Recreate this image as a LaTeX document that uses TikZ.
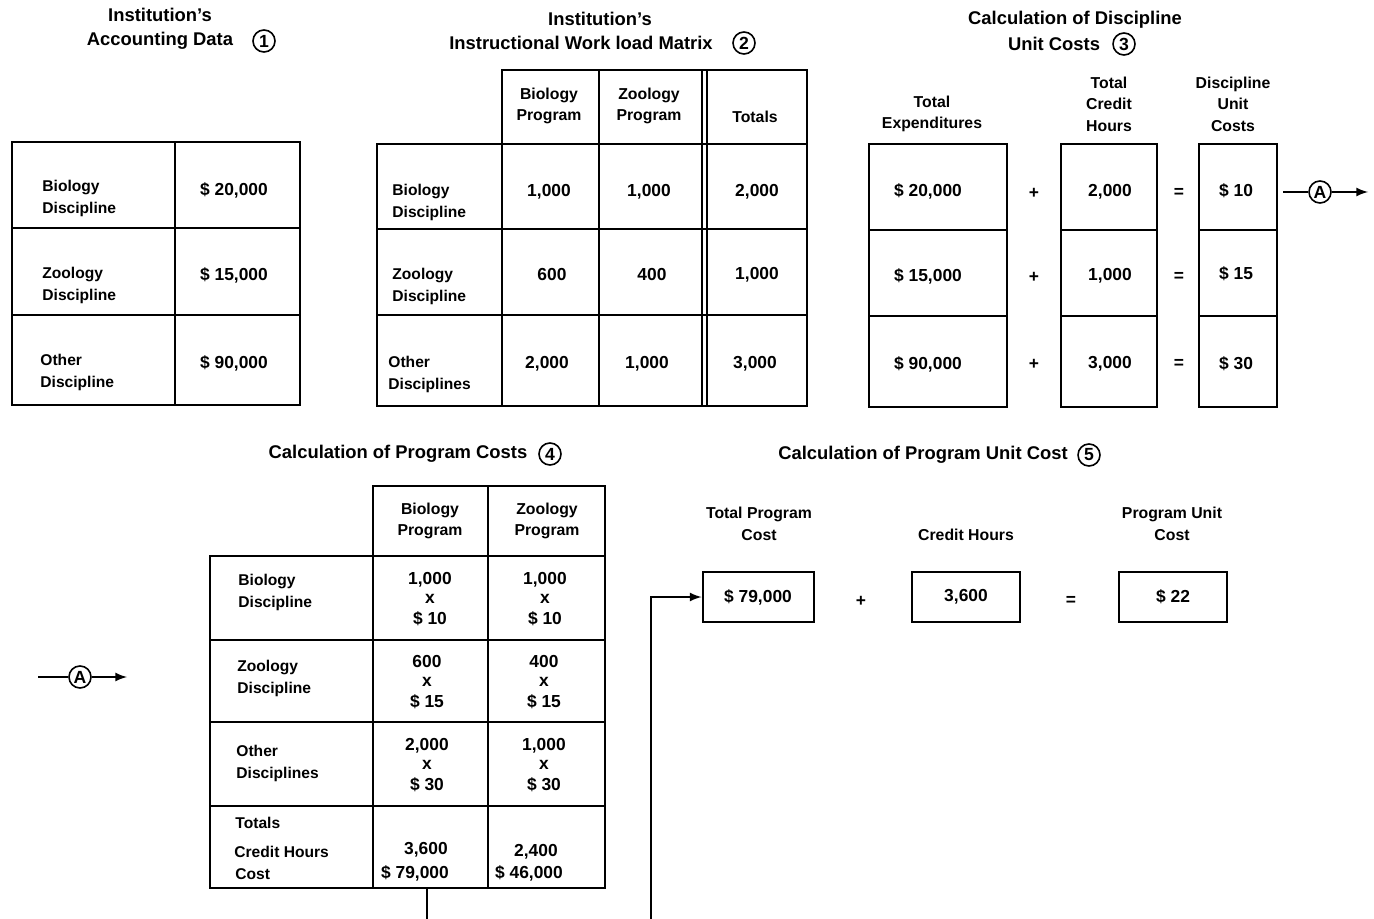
\documentclass[tikz,border=0pt]{standalone}
\usepackage{fontspec}
\setmainfont{Liberation Sans}
\usetikzlibrary{arrows}

\tikzset{
  grid/.style={line width=1pt},
  ttl/.style={font=\fontsize{9.2}{12}\selectfont\bfseries, align=center, inner sep=0pt},
  head/.style={font=\fontsize{7.9}{10.8}\selectfont\bfseries, align=center, inner sep=0pt},
  lbl/.style={font=\fontsize{7.8}{11}\selectfont\bfseries, align=left, anchor=west, inner sep=0pt},
  val/.style={font=\fontsize{8.7}{10.5}\selectfont\bfseries, align=center, inner sep=0pt},
  num/.style={circle, draw, line width=0.8pt, minimum size=11pt, inner sep=0pt, font=\fontsize{8.8}{8.8}\selectfont\bfseries},
  box/.style={draw, line width=1pt, minimum height=25pt, font=\fontsize{8.7}{10}\selectfont\bfseries}
}

\begin{document}
\begin{tikzpicture}[x=0.5pt, y=-0.5pt, >=latex]
    \useasboundingbox (0,0) rectangle (1374,919);

    % 1: accounting data
    \node[ttl] (t1) at (160,29) {Institution's\\Accounting Data};
    \node[num] (n1) at (264,41) {1};
    \draw[grid] (12,142) rectangle (300,405);
    \draw[grid] (175,142) -- (175,405) (12,228) -- (300,228) (12,315) -- (300,315);
    \node[lbl] (ab) at (42,198) {Biology\\Discipline};
    \node[lbl] (az) at (42,285) {Zoology\\Discipline};
    \node[lbl] (ao) at (40,372) {Other\\Discipline};
    \node[val] (abv) at (234,190) {\$ 20,000};
    \node[val] (azv) at (234,275) {\$ 15,000};
    \node[val] (aov) at (234,363) {\$ 90,000};

    % 2: work load matrix
    \node[ttl] (t2a) at (600,19) {Institution's};
    \node[ttl] (t2b) at (581,43) {Instructional Work load Matrix};
    \node[num] (n2) at (744,43) {2};
    \draw[grid] (502,144) -- (502,70) -- (807,70) -- (807,406) -- (377,406) -- (377,144) -- cycle;
    \draw[grid] (502,144) -- (502,406) (599,70) -- (599,406) (702,70) -- (702,406) (707,70) -- (707,406);
    \draw[grid] (502,144) -- (807,144) (377,229) -- (807,229) (377,315) -- (807,315);
    \node[head] (wbp) at (549,106) {Biology\\Program};
    \node[head] (wzp) at (649,106) {Zoology\\Program};
    \node[head] (wtot) at (755,117) {Totals};
    \node[lbl] (wb) at (392,202) {Biology\\Discipline};
    \node[lbl] (wz) at (392,286) {Zoology\\Discipline};
    \node[lbl] (wo) at (388,374) {Other\\Disciplines};
    \node[val] (w11) at (549,192) {1,000};
    \node[val] (w12) at (649,192) {1,000};
    \node[val] (w13) at (757,192) {2,000};
    \node[val] (w21) at (552,275) {600};
    \node[val] (w22) at (652,275) {400};
    \node[val] (w23) at (757,275) {1,000};
    \node[val] (w31) at (547,364) {2,000};
    \node[val] (w32) at (647,364) {1,000};
    \node[val] (w33) at (755,364) {3,000};

    % 3: discipline unit costs
    \node[ttl] (t3a) at (1075,20) {Calculation of Discipline};
    \node[ttl] (t3b) at (1054,44) {Unit Costs};
    \node[num] (n3) at (1124,44) {3};
    \draw[grid] (869,144) rectangle (1007,407) (869,230) -- (1007,230) (869,316) -- (1007,316);
    \draw[grid] (1061,144) rectangle (1157,407) (1061,230) -- (1157,230) (1061,316) -- (1157,316);
    \draw[grid] (1199,144) rectangle (1277,407) (1199,230) -- (1277,230) (1199,316) -- (1277,316);
    \node[head] (dexp) at (932,114) {Total\\Expenditures};
    \node[head] (dhrs) at (1109,104) {Total\\Credit\\Hours};
    \node[head] (dunit) at (1233,104) {Discipline\\Unit\\Costs};
    \node[val] (de1) at (928,191) {\$ 20,000};
    \node[val] (de2) at (928,276) {\$ 15,000};
    \node[val] (de3) at (928,364) {\$ 90,000};
    \node[val] (dh1) at (1110,192) {2,000};
    \node[val] (dh2) at (1110,276) {1,000};
    \node[val] (dh3) at (1110,364) {3,000};
    \node[val] (du1) at (1236,191) {\$ 10};
    \node[val] (du2) at (1236,274) {\$ 15};
    \node[val] (du3) at (1236,364) {\$ 30};
    \node[val] (dp1) at (1034,193) {+};
    \node[val] (dp2) at (1034,277) {+};
    \node[val] (dp3) at (1034,364) {+};
    \node[val] (dq1) at (1179,193) {=};
    \node[val] (dq2) at (1179,277) {=};
    \node[val] (dq3) at (1179,364) {=};
    \node[num] (a1) at (1320,192) {A};
    \coordinate (a1in) at (1283,192);
    \coordinate (a1out) at (1368,192);
    \draw[grid] (a1in) -- (a1);
    \draw[grid, ->] (a1) -- (a1out);

    % 4: program costs
    \node[ttl] (t4) at (398,454) {Calculation of Program Costs};
    \node[num] (n4) at (550,454) {4};
    \draw[grid] (373,556) -- (373,486) -- (605,486) -- (605,888) -- (210,888) -- (210,556) -- cycle;
    \draw[grid] (373,556) -- (373,888) (488,486) -- (488,888);
    \draw[grid] (373,556) -- (605,556) (210,640) -- (605,640) (210,722) -- (605,722) (210,806) -- (605,806);
    \node[head] (pbp) at (430,521) {Biology\\Program};
    \node[head] (pzp) at (547,521) {Zoology\\Program};
    \node[lbl] (pb) at (238,592) {Biology\\Discipline};
    \node[lbl] (pz) at (237,678) {Zoology\\Discipline};
    \node[lbl] (po) at (236,763) {Other\\Disciplines};
    \node[val] (p11) at (430,599) {1,000\\[-1pt]x\\\$ 10};
    \node[val] (p12) at (545,599) {1,000\\[-1pt]x\\\$ 10};
    \node[val] (p21) at (427,682) {600\\[-1pt]x\\\$ 15};
    \node[val] (p22) at (544,682) {400\\[-1pt]x\\\$ 15};
    \node[val] (p31) at (427,765) {2,000\\[-1pt]x\\\$ 30};
    \node[val] (p32) at (544,765) {1,000\\[-1pt]x\\\$ 30};
    \node[lbl] (ptot) at (235,823) {Totals};
    \node[lbl] (pch) at (234,852) {Credit Hours};
    \node[lbl] (pcost) at (235,874) {Cost};
    \node[val] (ph1) at (426,850) {3,600};
    \node[val] (pc1) at (415,873) {\$ 79,000};
    \node[val] (ph2) at (536,852) {2,400};
    \node[val] (pc2) at (529,873) {\$ 46,000};
    \node[num] (a2) at (80,677) {A};
    \coordinate (a2in) at (38,677);
    \coordinate (a2out) at (127,677);
    \draw[grid] (a2in) -- (a2);
    \draw[grid, ->] (a2) -- (a2out);

    % 5: program unit cost
    \node[ttl] (t5) at (923,455) {Calculation of Program Unit Cost};
    \node[num] (n5) at (1089,455) {5};
    \node[head] (utpc) at (759,524) {Total Program\\Cost};
    \node[head] (uch) at (966,535) {Credit Hours};
    \node[head] (upuc) at (1172,524) {Program Unit\\Cost};
    \node[box, minimum width=55.5pt] (tpc) at (758,597) {\$ 79,000};
    \node[box, minimum width=54pt] (chr) at (966,597) {3,600};
    \node[box, minimum width=54pt] (puc) at (1173,597) {\$ 22};
    \node[val] (up) at (861,601) {+};
    \node[val] (uq) at (1071,601) {=};

    % feed of total program cost
    \coordinate (t4b) at (427,888);
    \coordinate (turn) at (651,597);
    \draw[grid, ->] (t4b) -- ++(0,45) -| (turn) -- (tpc.west);
\end{tikzpicture}
\end{document}
